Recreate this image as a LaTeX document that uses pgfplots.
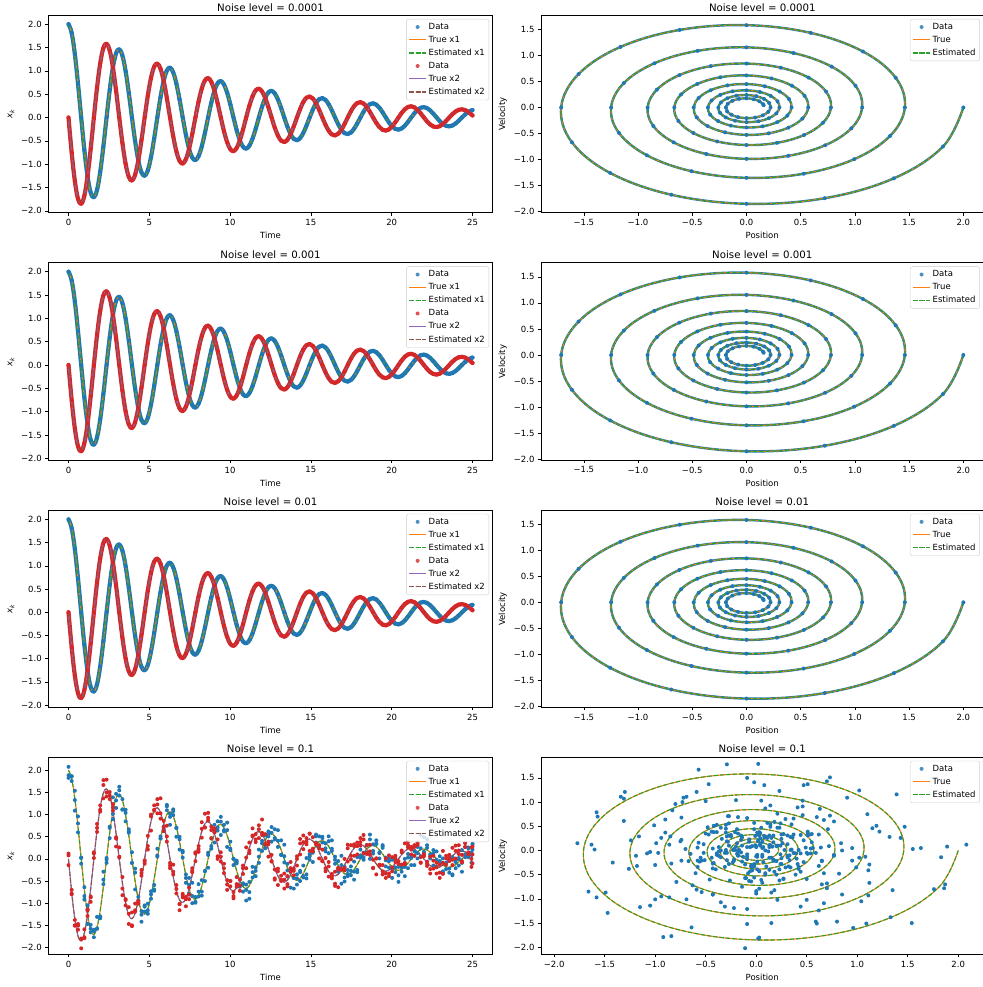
\documentclass[border=0pt]{standalone}
\usepackage{pgfplots}
\pgfplotsset{compat=1.18}
\usepackage{pgfplotstable}
\usepackage{fontspec}
\setmainfont{DejaVu Sans}
\definecolor{tabblue}{HTML}{1F77B4}
\definecolor{taborange}{HTML}{FF7F0E}
\definecolor{tabgreen}{HTML}{2CA02C}
\definecolor{tabred}{HTML}{D62728}
\definecolor{tabpurple}{HTML}{9467BD}
\definecolor{tabbrown}{HTML}{8C564B}
\newcommand{\ticks}{\fontsize{8.5}{10}\selectfont}
\newcommand{\titlef}{\fontsize{10.2}{12}\selectfont}

\pgfplotstableread{
t x1 x2 n1 n2 m1 m2 p1 p2
0.0000 2.0000 0.0000 2.08 0.12 1.89 0.08 1.83 -0.14
0.1963 1.8118 -0.7505 1.76 -0.80 1.86 -0.78 1.87 -0.70
0.3927 1.3598 -1.3598 1.54 -1.50 1.09 -1.51 1.33 -1.38
0.5890 0.7216 -1.7421 0.60 -1.51 0.80 -1.47 0.96 -1.60
0.7854 0.0000 -1.8489 0.02 -1.82 0.03 -1.80 -0.11 -2.02
0.9817 -0.6938 -1.6750 -0.92 -1.79 -0.84 -1.77 -0.64 -1.59
1.1781 -1.2571 -1.2571 -1.15 -1.17 -1.05 -1.14 -1.47 -1.29
1.3744 -1.6105 -0.6671 -1.58 -0.97 -1.66 -0.85 -1.49 -0.87
1.5708 -1.7093 0.0000 -1.77 0.15 -1.60 0.02 -1.63 0.12
1.7671 -1.5485 0.6414 -1.31 0.61 -1.58 0.79 -1.57 0.70
1.9635 -1.1621 1.1621 -1.30 1.21 -1.34 1.11 -1.31 1.07
2.1598 -0.6167 1.4888 -0.57 1.67 -0.47 1.37 -0.29 1.78
2.3562 0.0000 1.5802 -0.02 1.41 0.02 1.79 -0.09 1.50
2.5525 0.5929 1.4315 0.73 1.51 0.47 1.35 0.70 1.43
2.7489 1.0743 1.0743 0.90 1.09 1.39 1.16 1.02 1.24
2.9452 1.3764 0.5701 1.47 0.49 1.32 0.28 1.15 0.46
3.1416 1.4608 0.0000 1.43 0.26 1.55 0.03 1.63 0.05
3.3379 1.3234 -0.5482 1.12 -0.67 1.11 -0.41 1.35 -0.82
3.5343 0.9932 -0.9932 1.11 -0.93 1.04 -1.05 0.85 -0.91
3.7306 0.5270 -1.2724 0.59 -1.47 0.67 -1.09 0.62 -1.24
3.9270 0.0000 -1.3505 -0.09 -1.21 -0.09 -1.52 0.15 -1.50
4.1233 -0.5067 -1.2234 -0.22 -1.19 -0.31 -1.16 -0.69 -1.01
4.3197 -0.9182 -0.9182 -1.00 -1.01 -0.94 -0.95 -0.86 -0.97
4.5160 -1.1763 -0.4872 -1.18 -0.32 -1.42 -0.25 -1.26 -0.38
4.7124 -1.2485 0.0000 -1.08 -0.06 -1.19 -0.11 -1.05 -0.03
4.9087 -1.1310 0.4685 -1.24 0.21 -1.01 0.52 -1.16 0.29
5.1051 -0.8488 0.8488 -0.80 0.96 -0.90 0.64 -0.73 1.00
5.3014 -0.4504 1.0874 -0.72 1.09 -0.59 1.21 -0.69 1.11
5.4978 0.0000 1.1542 0.08 1.35 0.23 1.23 0.05 1.03
5.6941 0.4331 1.0456 0.46 0.91 0.46 1.03 0.51 1.37
5.8905 0.7847 0.7847 0.63 0.86 0.67 0.63 0.73 0.72
6.0868 1.0053 0.4164 1.22 0.39 1.10 0.75 1.19 0.51
6.2832 1.0670 0.0000 1.02 -0.15 0.77 -0.09 0.95 -0.21
6.4795 0.9666 -0.4004 1.08 -0.13 1.12 -0.29 0.99 -0.35
6.6759 0.7254 -0.7254 0.70 -0.68 0.70 -0.78 0.50 -0.59
6.8722 0.3850 -0.9294 0.21 -1.02 0.44 -1.16 0.50 -1.02
7.0686 0.0000 -0.9864 0.15 -0.87 0.18 -0.82 0.03 -0.79
7.2649 -0.3701 -0.8936 -0.35 -1.07 -0.54 -0.86 -0.43 -0.91
7.4613 -0.6706 -0.6706 -0.79 -0.65 -0.59 -0.81 -0.43 -0.91
7.6576 -0.8592 -0.3559 -0.54 -0.21 -0.84 -0.27 -1.00 -0.30
7.8540 -0.9119 0.0000 -0.97 -0.05 -0.99 0.15 -0.86 0.12
8.0503 -0.8261 0.3422 -0.74 0.22 -0.57 0.16 -0.85 0.29
8.2467 -0.6200 0.6200 -0.83 0.83 -0.74 0.68 -0.48 0.48
8.4430 -0.3290 0.7943 -0.28 0.71 -0.27 0.71 -0.50 1.02
8.6394 0.0000 0.8430 0.14 0.93 -0.20 1.04 0.09 0.87
8.8357 0.3163 0.7637 0.23 0.47 0.46 0.73 0.29 0.65
9.0321 0.5731 0.5731 0.77 0.60 0.60 0.69 0.37 0.66
9.2284 0.7343 0.3041 0.71 0.44 0.64 0.06 0.85 0.00
9.4248 0.7793 0.0000 0.54 -0.06 0.95 0.05 0.84 0.15
9.6211 0.7060 -0.2924 0.77 -0.11 0.65 -0.21 0.62 -0.32
9.8175 0.5298 -0.5298 0.65 -0.70 0.27 -0.58 0.82 -0.48
10.0138 0.2812 -0.6788 0.23 -0.62 0.39 -0.50 0.20 -0.50
10.2102 0.0000 -0.7205 -0.14 -0.75 0.00 -0.84 0.00 -0.89
10.4065 -0.2703 -0.6527 -0.04 -0.41 -0.07 -0.63 -0.10 -0.57
10.6029 -0.4898 -0.4898 -0.46 -0.60 -0.63 -0.72 -0.60 -0.47
10.7992 -0.6275 -0.2599 -0.74 -0.21 -0.55 -0.15 -0.58 -0.34
10.9956 -0.6660 0.0000 -0.58 -0.21 -0.70 0.03 -0.94 0.26
11.1919 -0.6034 0.2499 -0.90 0.37 -0.75 0.19 -0.52 0.13
11.3883 -0.4528 0.4528 -0.30 0.53 -0.18 0.69 -0.42 0.51
11.5846 -0.2403 0.5801 -0.27 0.56 -0.19 0.44 -0.39 0.38
11.7810 0.0000 0.6157 0.05 0.47 -0.09 0.67 0.21 0.76
11.9773 0.2310 0.5578 0.41 0.89 0.35 0.54 0.18 0.59
12.1737 0.4186 0.4186 0.25 0.33 0.24 0.56 0.53 0.33
12.3700 0.5363 0.2221 0.62 0.33 0.56 0.05 0.51 0.39
12.5664 0.5692 0.0000 0.59 -0.05 0.72 0.09 0.39 -0.06
12.7627 0.5157 -0.2136 0.44 -0.44 0.47 -0.24 0.67 -0.47
12.9591 0.3870 -0.3870 0.65 -0.22 0.27 -0.59 0.41 -0.28
13.1554 0.2054 -0.4958 0.09 -0.47 0.42 -0.38 0.09 -0.50
13.3518 0.0000 -0.5262 0.06 -0.67 -0.08 -0.47 0.32 -0.33
13.5481 -0.1975 -0.4767 -0.40 -0.39 -0.11 -0.57 -0.26 -0.62
13.7445 -0.3578 -0.3578 -0.22 -0.21 -0.65 -0.07 -0.27 -0.28
13.9408 -0.4584 -0.1899 -0.43 -0.37 -0.43 -0.27 -0.67 -0.22
14.1372 -0.4865 0.0000 -0.58 0.06 -0.35 0.00 -0.44 -0.15
14.3335 -0.4407 0.1825 -0.27 0.10 -0.50 0.35 -0.30 0.45
14.5299 -0.3307 0.3307 -0.39 0.53 -0.15 0.22 -0.42 0.38
14.7262 -0.1755 0.4237 -0.44 0.39 -0.35 0.47 0.02 0.33
14.9226 0.0000 0.4497 0.11 0.57 0.06 0.18 -0.02 0.57
15.1189 0.1688 0.4074 0.17 0.17 0.14 0.49 -0.07 0.23
15.3153 0.3058 0.3058 0.51 0.36 0.55 0.34 0.37 0.33
15.5116 0.3917 0.1623 0.25 0.24 0.28 0.01 0.51 0.31
15.7080 0.4158 0.0000 0.50 -0.05 0.47 0.21 0.37 -0.05
15.9043 0.3766 -0.1560 0.35 0.02 0.17 -0.21 0.24 -0.28
16.1007 0.2827 -0.2827 0.13 -0.40 0.40 -0.17 0.51 -0.07
16.2970 0.1500 -0.3621 0.42 -0.34 0.23 -0.39 0.18 -0.44
16.4934 0.0000 -0.3844 0.05 -0.61 -0.02 -0.56 -0.11 -0.29
16.6897 -0.1442 -0.3482 -0.23 -0.24 -0.29 -0.20 -0.05 -0.64
16.8861 -0.2613 -0.2613 -0.14 -0.23 0.07 -0.24 -0.56 -0.23
17.0824 -0.3348 -0.1387 -0.51 -0.20 -0.42 -0.26 -0.18 0.00
17.2788 -0.3553 0.0000 -0.34 0.24 -0.25 0.32 -0.39 -0.06
17.4751 -0.3219 0.1333 -0.17 -0.01 -0.37 0.07 -0.27 0.31
17.6715 -0.2416 0.2416 -0.29 0.29 -0.47 0.33 -0.06 0.07
17.8678 -0.1282 0.3095 -0.25 0.29 0.04 0.10 -0.30 0.37
18.0642 0.0000 0.3285 0.21 0.47 0.03 0.38 0.08 0.30
18.2605 0.1233 0.2976 0.04 0.13 -0.02 0.44 0.14 0.54
18.4569 0.2233 0.2233 0.31 0.31 0.31 0.13 0.14 0.11
18.6532 0.2861 0.1185 0.00 0.09 0.44 0.32 0.55 0.17
18.8496 0.3037 0.0000 0.33 -0.20 0.12 -0.02 0.18 -0.21
19.0459 0.2751 -0.1140 0.42 0.01 0.34 -0.35 0.34 0.01
19.2423 0.2065 -0.2065 0.15 -0.15 0.13 -0.15 0.01 -0.13
19.4386 0.1096 -0.2645 0.29 -0.35 0.31 -0.14 0.25 -0.28
19.6350 0.0000 -0.2807 -0.17 0.01 -0.03 -0.33 0.03 -0.43
19.8313 -0.1053 -0.2543 -0.05 -0.33 0.01 -0.39 -0.20 0.08
20.0277 -0.1909 -0.1909 -0.22 -0.19 -0.43 0.04 -0.02 -0.28
20.2240 -0.2445 -0.1013 0.00 0.07 -0.19 -0.07 -0.30 0.01
20.4204 -0.2595 0.0000 -0.37 -0.11 -0.18 -0.11 -0.52 -0.05
20.6167 -0.2351 0.0974 -0.19 0.15 -0.29 0.19 -0.13 -0.13
20.8131 -0.1764 0.1764 -0.39 -0.09 0.00 -0.12 -0.18 0.35
21.0094 -0.0936 0.2261 0.03 0.31 -0.21 0.38 0.11 0.26
21.2058 0.0000 0.2399 0.08 0.27 0.02 0.21 -0.14 0.10
21.4021 0.0900 0.2174 0.07 0.07 -0.14 0.27 0.17 0.31
21.5985 0.1631 0.1631 0.01 0.37 0.27 0.34 0.13 0.31
21.7948 0.2090 0.0866 0.54 0.04 0.24 -0.08 0.06 -0.09
21.9911 0.2218 0.0000 0.13 0.11 0.16 0.08 0.49 0.06
22.1875 0.2009 -0.0832 0.31 -0.11 0.44 -0.06 0.25 -0.16
22.3838 0.1508 -0.1508 0.10 -0.33 0.01 -0.23 0.06 0.05
22.5802 0.0800 -0.1932 -0.15 -0.04 0.13 0.07 0.20 -0.22
22.7765 0.0000 -0.2050 0.17 -0.19 -0.02 -0.33 -0.18 -0.09
22.9729 -0.0769 -0.1858 -0.05 -0.31 0.06 -0.13 -0.06 -0.43
23.1692 -0.1394 -0.1394 -0.28 0.18 -0.31 -0.34 0.01 -0.09
23.3656 -0.1786 -0.0740 -0.09 -0.13 -0.09 0.07 -0.23 0.01
23.5619 -0.1896 0.0000 -0.04 0.09 -0.22 0.03 -0.31 -0.05
23.7583 -0.1717 0.0711 -0.35 -0.14 -0.37 -0.02 0.04 0.25
23.9546 -0.1289 0.1289 -0.07 0.18 -0.01 0.30 -0.21 0.01
24.1510 -0.0684 0.1651 -0.15 0.31 -0.01 0.11 0.02 0.19
24.3473 0.0000 0.1752 0.20 0.09 -0.09 -0.08 -0.29 -0.05
24.5437 0.0658 0.1588 0.04 0.36 0.36 0.27 0.10 0.27
24.7400 0.1191 0.1191 0.24 0.10 0.04 0.12 0.26 0.15
24.9364 0.1526 0.0632 -0.09 -0.18 0.15 0.26 0.09 0.00
25.0000 0.1584 0.0432 0.21 0.10 0.33 -0.10 0.34 0.28
}\osc

\pgfplotsset{
  base/.style={
    scale only axis, height=197.4pt,
    axis line style={line width=0.6pt},
    every tick/.style={black, line width=0.6pt},
    major tick length=3pt, tick align=outside, tick pos=left,
    tick label style={font=\ticks},
    label style={font=\ticks},
    title style={font=\titlef, yshift=-5.5pt},
    legend cell align=left,
    legend style={at={(1,1)}, anchor=north east, xshift=-3.7pt, yshift=-3.7pt,
      draw=black!20, rounded corners=2pt, fill=white, fill opacity=0.8,
      text opacity=1, draw opacity=1, font=\ticks, row sep=1.2pt, inner sep=2pt},
  },
  tleft/.style={base, width=444.4pt, xmin=-1.25, xmax=26.25,
    xtick={0,5,10,15,20,25}, xticklabels={0,5,10,15,20,25},
    ytick={-2,-1.5,-1,-0.5,0,0.5,1,1.5,2},
    yticklabels={−2.0,−1.5,−1.0,−0.5,0.0,0.5,1.0,1.5,2.0},
    xlabel={Time}, ylabel={\textit{x}\textsubscript{\textit{k}}}},
  phase/.style={base, width=442.5pt,
    ytick={-2,-1.5,-1,-0.5,0,0.5,1,1.5},
    yticklabels={−2.0,−1.5,−1.0,−0.5,0.0,0.5,1.0,1.5},
    xlabel={Position}, ylabel={Velocity}},
  phaseA/.style={phase, xmin=-1.895, xmax=2.186, ymin=-2.02, ymax=1.77,
    xtick={-1.5,-1,-0.5,0,0.5,1,1.5,2},
    xticklabels={−1.5,−1.0,−0.5,0.0,0.5,1.0,1.5,2.0}},
  truel/.style={line width=1.1pt, smooth, tension=0.62},
  estl/.style={line width=1.1pt, smooth, tension=0.62, dash pattern=on 4.5pt off 1.9pt},
  band/.style={line width=4.2pt, smooth, tension=0.62, line cap=round, line join=round,
    mark=*, mark size=2pt, mark options={solid, line width=0pt, draw opacity=0}},
  pband/.style={line width=2.4pt, smooth, tension=0.62, line cap=round, line join=round,
    mark=*, mark size=2pt, mark options={solid, line width=0pt, draw opacity=0}},
  dots/.style={only marks, mark=*, mark size=2pt, mark options={line width=0pt, draw opacity=0}},
  bluedot/.style={legend image code/.code={\fill[tabblue, draw=none, line width=0pt] (0.3cm,0cm) circle (2pt);}},
  reddot/.style={legend image code/.code={\fill[tabred, draw=none, line width=0pt] (0.3cm,0cm) circle (2pt);}},
}

\newcommand{\cleanleft}{%
  \addplot[tabblue, band, bluedot] table[x=t,y=x1]{\osc};
  \addplot[taborange, truel] table[x=t,y=x1]{\osc};
  \addplot[tabgreen, estl] table[x=t,y=x1]{\osc};
  \addplot[tabred, band, reddot] table[x=t,y=x2]{\osc};
  \addplot[tabpurple, truel] table[x=t,y=x2]{\osc};
  \addplot[tabbrown, estl] table[x=t,y=x2]{\osc};
  \legend{Data,True x1,Estimated x1,Data,True x2,Estimated x2}
}
\newcommand{\cleanright}{%
  \addplot[tabblue, pband, bluedot] table[x=x1,y=x2]{\osc};
  \addplot[taborange, truel] table[x=x1,y=x2]{\osc};
  \addplot[tabgreen, estl] table[x=x1,y=x2]{\osc};
  \legend{Data,True,Estimated}
}

\begin{document}
\begin{tikzpicture}
\useasboundingbox (0pt,0pt) rectangle (982pt,987pt);

% Row 1
\begin{axis}[tleft, at={(48.3pt,774.3pt)}, anchor=south west,
  ymin=-2.04, ymax=2.19, title={Noise level = 0.0001}]
\cleanleft
\end{axis}
\begin{axis}[phaseA, at={(541pt,774.3pt)}, anchor=south west,
  title={Noise level = 0.0001}]
\cleanright
\end{axis}

% Row 2
\begin{axis}[tleft, at={(48.3pt,526.8pt)}, anchor=south west,
  ymin=-2.04, ymax=2.19, title={Noise level = 0.001}]
\cleanleft
\end{axis}
\begin{axis}[phaseA, at={(541pt,526.8pt)}, anchor=south west,
  title={Noise level = 0.001}]
\cleanright
\end{axis}

% Row 3
\begin{axis}[tleft, at={(48.3pt,279.5pt)}, anchor=south west,
  ymin=-2.05, ymax=2.2, title={Noise level = 0.01}]
\cleanleft
\end{axis}
\begin{axis}[phaseA, at={(541pt,279.5pt)}, anchor=south west,
  title={Noise level = 0.01}]
\cleanright
\end{axis}

% Row 4
\begin{axis}[tleft, at={(48.3pt,32.5pt)}, anchor=south west,
  ymin=-2.16, ymax=2.30, title={Noise level = 0.1}]
  \addplot[tabblue, dots, bluedot] table[x=t,y=n1]{\osc};
  \addplot[tabblue, dots, forget plot] table[x=t,y=m1]{\osc};
  \addplot[tabblue, dots, forget plot] table[x=t,y=p1]{\osc};
  \addplot[taborange, truel] table[x=t,y=x1]{\osc};
  \addplot[tabgreen, estl] table[x=t,y=x1]{\osc};
  \addplot[tabred, dots, reddot] table[x=t,y=n2]{\osc};
  \addplot[tabred, dots, forget plot] table[x=t,y=m2]{\osc};
  \addplot[tabred, dots, forget plot] table[x=t,y=p2]{\osc};
  \addplot[tabpurple, truel] table[x=t,y=x2]{\osc};
  \addplot[tabbrown, estl] table[x=t,y=x2]{\osc};
  \legend{Data,True x1,Estimated x1,Data,True x2,Estimated x2}
\end{axis}
\begin{axis}[phase, at={(541pt,32.5pt)}, anchor=south west,
  xmin=-2.13, xmax=2.25, ymin=-2.15, ymax=1.93,
  xtick={-2,-1.5,-1,-0.5,0,0.5,1,1.5,2},
  xticklabels={−2.0,−1.5,−1.0,−0.5,0.0,0.5,1.0,1.5,2.0},
  title={Noise level = 0.1}]
  \addplot[tabblue, dots, bluedot] table[x=n1,y=n2]{\osc};
  \addplot[tabblue, dots, forget plot] table[x=m1,y=m2]{\osc};
  \addplot[tabblue, dots, forget plot] table[x=p1,y=p2]{\osc};
  \addplot[taborange, truel] table[x=x1,y=x2]{\osc};
  \addplot[tabgreen, estl] table[x=x1,y=x2]{\osc};
  \legend{Data,True,Estimated}
\end{axis}
\end{tikzpicture}
\end{document}
